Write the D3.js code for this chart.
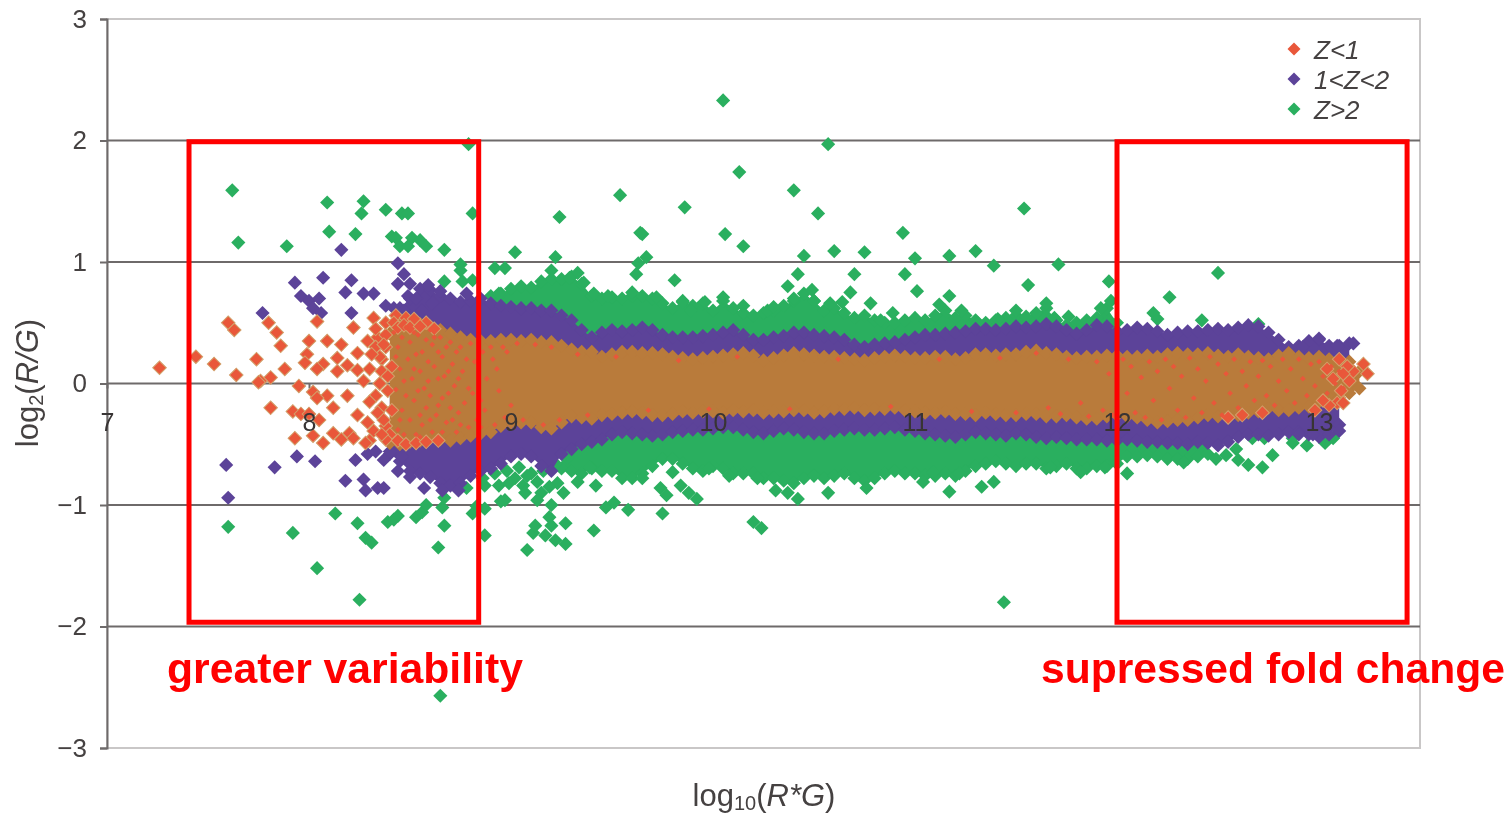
<!DOCTYPE html>
<meta http-equiv="Content-type" content="text/html; charset=UTF-8"/>
<style>
  html, body { margin: 0; background: #fff; overflow: hidden; }
  * { font-family: 'Liberation Sans', Arial, sans-serif; }
</style>
<svg width="1510" height="814"></svg>
<script src="https://d3js.org/d3.v7.min.js"></script>
<script>
var xTicks = [7, 8, 9, 10, 11, 12, 13];
var yTicks = [3, 2, 1, 0, -1, -2, -3];
var gridValues = [2, 1, 0, -1, -2];
var legendLabels = ["Z<1", "1<Z<2", "Z>2"];

// dense part of the cloud, read as an outline of the band at each x
var bandX = [8.40,8.45,8.50,8.55,8.60,8.65,8.70,8.75,8.80,8.85,
  8.90,8.95,9.00,9.05,9.10,9.15,9.20,9.25,9.30,9.35,
  9.40,9.45,9.50,9.55,9.60,9.65,9.70,9.75,9.80,9.85,
  9.90,9.95,10.00,10.05,10.10,10.15,10.20,10.25,10.30,10.35,
  10.40,10.45,10.50,10.55,10.60,10.65,10.70,10.75,10.80,10.85,
  10.90,10.95,11.00,11.05,11.10,11.15,11.20,11.25,11.30,11.35,
  11.40,11.45,11.50,11.55,11.60,11.65,11.70,11.75,11.80,11.85,
  11.90,11.95,12.00,12.05,12.10,12.15,12.20,12.25,12.30,12.35,
  12.40,12.45,12.50,12.55,12.60,12.65,12.70,12.75,12.80,12.85,
  12.90,12.95,13.00,13.05,13.10,13.15,13.20];
var orangeTop = [.41,.52,.51,.49,.47,.44,.41,.38,.36,.35,
  .35,.36,.36,.35,.36,.34,.34,.31,.28,.26,
  .26,.22,.24,.26,.26,.25,.25,.24,.22,.21,
  .20,.21,.22,.23,.24,.25,.23,.19,.21,.23,
  .25,.24,.23,.22,.22,.21,.20,.19,.21,.22,
  .23,.22,.21,.21,.22,.22,.20,.21,.24,.24,
  .23,.24,.24,.26,.27,.25,.24,.22,.21,.22,
  .22,.23,.23,.22,.22,.23,.22,.24,.25,.24,
  .24,.25,.23,.22,.24,.22,.21,.20,.23,.25,
  .22,.21,.22,.20,.17,.18,.10];
var orangeBot = [-.49,-.50,-.48,-.47,-.45,-.46,-.47,-.45,-.43,-.41,
  -.40,-.35,-.32,-.32,-.32,-.36,-.37,-.32,-.27,-.28,
  -.29,-.26,-.25,-.24,-.23,-.24,-.26,-.26,-.25,-.23,
  -.24,-.23,-.23,-.24,-.22,-.23,-.22,-.24,-.23,-.23,
  -.22,-.22,-.24,-.23,-.21,-.21,-.20,-.22,-.21,-.21,
  -.20,-.22,-.23,-.24,-.24,-.23,-.25,-.25,-.26,-.24,
  -.25,-.26,-.26,-.25,-.25,-.27,-.27,-.26,-.28,-.29,
  -.29,-.27,-.26,-.27,-.28,-.30,-.32,-.31,-.30,-.30,
  -.28,-.26,-.27,-.28,-.26,-.24,-.23,-.20,-.22,-.22,
  -.20,-.19,-.15,-.12,-.12,-.08,-.04];
var purpleTop = [null,.62,.70,.78,.77,.72,.70,.67,.68,.70,
  .66,.64,.63,.62,.62,.60,.60,.56,.52,.44,
  .38,.42,.44,.43,.44,.46,.44,.40,.38,.38,
  .38,.39,.40,.42,.44,.40,.36,.36,.38,.39,
  .42,.42,.40,.39,.38,.36,.32,.30,.32,.33,
  .34,.36,.38,.40,.40,.41,.42,.43,.45,.45,
  .44,.45,.47,.46,.47,.49,.47,.44,.41,.44,
  .48,.47,.43,.44,.46,.45,.43,.40,.42,.43,
  .43,.44,.45,.44,.46,.48,.47,.42,.36,.30,
  .31,.35,.36,.31,.31,.33,null];
var purpleBot = [-.58,-.64,-.72,-.74,-.77,-.82,-.84,-.82,-.76,-.72,
  -.70,-.66,-.60,-.58,-.60,-.68,-.72,-.58,-.54,-.50,
  -.48,-.46,-.42,-.40,-.41,-.42,-.43,-.42,-.40,-.39,
  -.38,-.38,-.37,-.36,-.36,-.38,-.40,-.41,-.39,-.37,
  -.38,-.40,-.41,-.41,-.39,-.38,-.37,-.38,-.38,-.37,
  -.36,-.38,-.39,-.41,-.42,-.43,-.44,-.42,-.40,-.41,
  -.42,-.43,-.41,-.42,-.44,-.45,-.44,-.45,-.46,-.46,
  -.46,-.47,-.47,-.46,-.47,-.48,-.48,-.49,-.49,-.50,
  -.48,-.49,-.51,-.48,-.44,-.42,-.42,-.43,-.42,-.40,
  -.40,-.42,-.44,-.42,-.34,null,null];
var greenTop = [null,null,null,null,null,null,null,null,null,null,
  .72,.74,.78,.80,.79,.84,.86,.86,.88,.82,
  .72,.70,.71,.70,.72,.72,.70,.66,.62,.68,
  .64,.66,.60,.68,.62,.58,.56,.58,.60,.64,
  .68,.74,.68,.60,.62,.58,.54,.56,.52,.50,
  .50,.52,.54,.52,.56,.60,.54,.56,.52,.50,
  .52,.54,.56,.55,.58,.62,.52,.48,.50,.52,
  .54,.62,.50,null,null,null,null,null,null,null,
  null,null,null,null,null,null,null,null,null,null,
  null,null,null,null,null,null,null];
var greenBot = [null,null,null,null,null,null,null,null,null,null,
  null,null,null,null,null,null,null,-.70,-.72,-.74,
  -.70,-.72,-.72,-.78,-.78,-.74,-.68,-.62,-.62,-.66,
  -.70,-.72,-.68,-.70,-.74,-.74,-.74,-.78,-.78,-.80,
  -.82,-.78,-.76,-.78,-.76,-.74,-.78,-.80,-.78,-.74,
  -.72,-.74,-.74,-.76,-.76,-.74,-.76,-.72,-.68,-.66,
  -.64,-.66,-.68,-.66,-.66,-.70,-.68,-.66,-.70,-.70,
  -.68,-.68,-.66,-.60,-.60,-.59,-.60,-.62,-.62,-.62,
  -.60,-.58,null,null,null,null,null,null,null,null,
  null,null,null,null,null,null,null];

// points that can be told apart, [x, y]
var orangePoints = [[7.26,.13],[7.44,.22],[7.53,.16],[7.60,.50],[7.63,.44],[7.64,.07],[7.80,.50],[7.84,.42],
  [7.86,.31],[7.74,.20],[7.88,.12],[8.04,.51],[8.00,.35],[8.09,.35],[8.16,.32],[8.22,.46],[7.99,.24],[7.98,.17],
  [8.14,.21],[8.07,.16],[8.04,.12],[8.14,.10],[8.19,.15],[8.24,.11],[7.81,.05],[7.76,.02],[7.75,.01],[7.95,-.02],
  [8.02,-.07],[8.09,-.10],[8.04,-.12],[8.19,-.10],[8.12,-.20],[7.81,-.20],[7.92,-.23],[7.96,-.25],[8.00,-.25],
  [8.05,-.30],[7.93,-.45],[8.02,-.43],[8.07,-.49],[8.12,-.41],[8.16,-.46],[8.20,-.41],[8.22,-.45],[8.24,-.26],
  [8.29,-.32],[8.32,-.39],[8.30,-.47],[8.28,-.49],[8.32,.54],[8.43,.56],[8.29,.35],[8.24,.25],[8.34,.38],[8.48,.54],
  [8.33,.30],[8.36,.20],[8.38,.40],[8.35,.00],[8.33,-.10],[8.36,-.20],[8.38,-.35],[8.40,-.42],[8.36,.10],[8.30,.12],
  [8.30,-.15],[8.33,.45],[8.38,.50],[8.42,.50],[8.38,.30],[8.39,-.06],[8.27,.02],[8.38,-.46],[8.52,.53],[8.58,.50],
  [8.35,.22],[8.37,.32],[8.31,.24],[8.34,-.24],[8.37,-.30],[8.36,-.42],[8.41,.14],[8.41,-.22],[8.39,.06],
  [8.44,.46],[8.47,.48],[8.50,.46],[8.55,.47],[8.62,.45],[8.44,-.47],[8.48,-.50],[8.53,-.49],[8.58,-.48],[8.64,-.47],
  [13.22,.16],[13.24,.08],[13.09,-.16],[13.12,-.16],[13.15,.02],[13.11,-.06],[13.17,.10],[13.14,.14],[13.05,-.18],
  [13.10,.20],[13.02,-.14],[12.98,-.22],[12.72,-.24],[12.55,-.28],[12.62,-.26],[13.12,.08],[13.07,.04],[13.04,.12]];
var orangeFlecks = [[8.42,.42],[8.44,.30],[8.45,.12],[8.43,-.05],[8.46,-.22],[8.44,-.38],[8.48,.46],[8.50,.34],[8.49,.20],
  [8.51,.04],[8.52,-.14],[8.50,-.30],[8.53,-.42],[8.54,.40],[8.56,.26],[8.55,.10],[8.57,-.04],[8.58,-.20],[8.56,-.34],
  [8.60,.44],[8.61,.32],[8.62,.14],[8.60,-.10],[8.63,-.26],[8.61,-.40],[8.65,.38],[8.66,.22],[8.67,.06],[8.66,-.12],
  [8.68,-.32],[8.70,.34],[8.71,.16],[8.72,-.02],[8.70,-.20],[8.73,-.40],[8.75,.30],[8.76,.10],[8.77,-.16],[8.75,-.34],
  [8.80,.33],[8.82,.18],[8.81,-.08],[8.83,-.30],[8.86,.26],[8.88,.04],[8.87,-.22],[8.90,.30],[8.93,.12],[8.92,-.34],
  [8.43,.22],[8.46,.38],[8.47,.02],[8.45,-.30],[8.48,-.10],[8.47,-.42],[8.52,.42],[8.53,.24],[8.52,.12],[8.54,-.06],
  [8.55,-.26],[8.55,-.44],[8.58,.36],[8.59,.18],[8.59,.02],[8.60,-.30],[8.62,.38],[8.64,.26],[8.64,.04],[8.64,-.18],
  [8.66,-.40],[8.68,.30],[8.69,.10],[8.69,-.08],[8.71,-.30],[8.73,.26],[8.74,.04],[8.74,-.24],[8.78,.20],[8.79,-.04],
  [8.79,-.36],[8.84,.10],[8.85,-.14],[8.85,-.36],[8.91,.20],[8.94,-.06],[8.96,.30],[8.97,-.28],
  [8.98,.26],[9.00,-.18],[9.03,.33],[9.06,-.30],[9.12,.32],[9.16,-.34],[9.20,.30],[9.24,-.30],[9.33,.24],[9.38,-.26],
  [9.52,.22],[9.68,-.22],[9.83,.19],[9.98,-.21],[10.12,.22],[10.38,-.21],[10.62,.20],[10.88,-.19],[11.12,.20],
  [11.28,-.23],[11.42,.21],[11.50,-.24],[11.60,.25],[11.66,-.20],[11.72,-.25],[11.76,.20],[11.82,-.16],[11.86,-.27],
  [11.90,.18],[11.93,-.22],[11.96,.08],[11.98,-.26],[12.03,.20],[12.05,-.08],[12.07,.14],[12.09,-.24],[12.12,.05],
  [12.14,-.28],[12.16,.18],[12.18,-.14],[12.20,.10],[12.22,-.30],[12.24,.20],[12.26,-.04],[12.28,.14],[12.30,-.22],
  [12.32,.06],[12.34,-.28],[12.36,.21],[12.38,-.12],[12.40,.12],[12.42,-.24],[12.44,.02],[12.46,.22],[12.48,-.16],
  [12.50,.16],[12.52,-.26],[12.54,.08],[12.56,-.08],[12.58,.20],[12.60,-.20],[12.62,.10],[12.64,-.02],[12.66,.18],
  [12.68,-.14],[12.70,.06],[12.72,.19],[12.74,-.10],[12.76,.14],[12.78,-.18],[12.80,.02],[12.82,.20],[12.84,-.06],
  [12.86,.12],[12.88,-.16],[12.90,.20],[12.92,.04],[12.94,-.10],[12.96,.16],[12.98,-.02],[13.00,.18],[13.02,.06],
  [13.04,-.08],[13.06,.14],[13.08,.00],[13.10,.10],[13.12,-.04]];
var purplePoints = [[7.77,.58],[7.93,.83],[8.07,.87],[8.16,1.10],[7.96,.72],[8.00,.68],[8.05,.70],[8.02,.62],[8.06,.58],
  [8.21,.58],[8.18,.75],[8.21,.85],[8.27,.74],[8.32,.74],[8.38,.64],[8.44,.99],[8.47,.90],[8.44,.82],[8.50,.82],[8.49,.72],
  [8.59,.81],[8.65,.76],[8.56,.60],[8.61,.66],[8.78,.74],[8.42,.62],[8.47,.60],[8.53,.70],
  [7.59,-.67],[7.60,-.94],[7.83,-.69],[7.94,-.60],[8.03,-.64],[8.23,-.63],[8.18,-.80],[8.27,-.79],[8.28,-.88],[8.34,-.86],
  [8.37,-.86],[8.29,-.58],[8.37,-.63],[8.44,-.72],[8.50,-.77],[8.57,-.86],[8.66,-.88],[8.74,-.88],[8.33,-.56],[8.40,-.56],[8.46,-.60],
  [13.10,-.39],[12.97,-.42],[12.90,-.42],[13.17,.33],[13.09,.31],[13.00,.37],[12.92,.30]];
var greenPoints = [[7.62,1.59],[7.65,1.16],[7.89,1.13],[8.09,1.49],[8.27,1.50],[8.26,1.40],[8.38,1.43],[8.46,1.40],[8.49,1.40],
  [8.10,1.25],[8.23,1.23],[8.41,1.21],[8.45,1.13],[8.43,1.20],[8.51,1.20],[8.49,1.13],[8.55,1.18],[8.58,1.13],[8.67,1.10],
  [8.75,.98],[8.75,.93],[8.67,.84],[8.76,.84],[8.81,1.40],[8.79,1.97],[8.81,.85],[8.92,.95],[8.94,.74],
  [7.60,-1.18],[7.92,-1.23],[8.13,-1.07],[8.24,-1.15],[8.28,-1.27],[8.31,-1.31],[8.04,-1.52],[8.25,-1.78],[8.39,-1.14],
  [8.44,-1.09],[8.42,-1.12],[8.53,-1.10],[8.56,-1.06],[8.58,-1.00],[8.66,-1.02],[8.67,-.94],[8.67,-1.17],[8.64,-1.35],
  [8.78,-.86],[8.81,-1.07],[8.83,-1.01],[8.87,-1.03],[8.87,-1.25],[8.87,-.84],[8.94,-.84],[8.95,-.97],
  [8.86,-.78],[8.92,-.74],[8.98,-.72],[9.02,-.78],[9.06,-.84],[9.10,-.74],[9.15,-.90],[9.23,-.82],
  [9.04,-.69],[8.99,-.82],[8.97,-.96],[9.07,-.90],[9.13,-.96],[9.13,-.81],[9.19,-.85],[9.26,-.90],[9.20,-1.00],[9.19,-1.10],
  [9.20,-1.17],[9.27,-1.15],[9.11,-1.23],[9.28,-.61],[9.33,-.81],[9.39,-.69],[9.42,-.84],[9.47,-1.02],[9.51,-.98],[9.58,-1.04],
  [9.75,-1.07],[9.74,-.86],[9.77,-.92],[9.84,-.84],[9.88,-.90],[9.92,-.95],[9.80,-.73],[9.65,-.78],[9.98,-.70],[10.08,-.76],
  [10.22,-.78],[10.31,-.88],[10.37,-.90],[10.42,-.95],[10.57,-.90],[10.76,-.86],[10.20,-1.14],[10.24,-1.19],[9.41,-1.21],
  [9.08,-1.37],[9.12,-1.17],[9.17,-1.25],[9.27,-1.32],[9.22,-1.29],[9.08,-.76],[9.16,-.72],[9.22,-.66],
  [9.02,1.08],[8.97,.95],[9.22,1.04],[9.20,.93],[9.65,1.23],[9.67,1.04],[9.63,.99],[9.62,.90],[9.81,.85],[10.06,1.23],[10.15,1.13],
  [10.45,1.05],[10.60,1.09],[10.75,1.08],[10.42,.90],[10.70,.90],[10.37,.80],[10.49,.77],[10.50,.68],[10.68,.75],[10.78,.66],
  [10.05,.71],[9.96,.67],[9.85,.67],[9.33,.91],[9.36,.83],[9.29,.87],[10.58,.66],[10.64,.67],[10.40,.70],[10.89,.58],
  [9.41,.74],[9.48,.72],[9.60,.75],[9.72,.71],[9.89,.60],[10.15,.64],[10.27,.60],[10.30,.63],[10.83,.52],
  [10.05,2.33],[10.13,1.74],[10.57,1.97],[10.40,1.59],[10.52,1.40],[9.54,1.55],[9.86,1.45],[9.24,1.37],[9.64,1.24],[11.54,1.44],
  [10.94,1.24],[12.50,.91],[11.71,.98],[11.39,.97],[11.30,1.09],[11.17,1.05],[11.00,1.03],[10.95,.90],[11.01,.76],[11.56,.81],
  [11.44,-1.80],[8.65,-2.57],[11.96,.84],[11.17,.72],[11.12,.65],[11.97,.68],[11.92,.62],[11.76,.55],[11.65,.66],[11.69,.54],
  [11.50,.60],[11.41,.53],[11.23,.60],[11.31,.50],[12.26,.71],[12.18,.58],[12.20,.53],[12.42,.52],[12.70,.49],
  [11.17,-.89],[11.04,-.81],[11.09,-.73],[11.33,-.85],[11.39,-.81],[11.22,-.74],[11.67,-.69],[11.82,-.73],[11.94,-.69],[12.05,-.74],
  [12.33,-.65],[12.59,-.54],[12.60,-.63],[12.65,-.67],[12.72,-.69],[12.77,-.59],[12.67,-.45],[12.73,-.45],[12.87,-.45],[12.87,-.49],
  [12.94,-.51],[13.03,-.49],[13.07,-.45],[12.49,-.62],[12.54,-.59]];

var boxXs = [[7.406, 8.84], [12.0, 13.436]];
var boxYs = [1.99, -1.965];

var colors = {red: "#e9573a", redEdge: "#d2a06a", brown: "#b97b3b", purple: "#5c4399", green: "#2aaf5f", text: "#454141", grid: "#6e6a6a", frame: "#c9c7c7"};

var svg = d3.select("svg");
// the source is a soft scan, everything but the red call-outs gets a slight blur
var chart = svg.append("g").style("filter", "blur(0.5px)");
var x = d3.scaleLinear().domain([7, 13.5]).range([107, 1420]);
var y = d3.scaleLinear().domain([-3, 3]).range([748, 19]);

// frame
chart.append("rect").attr("x", x(7)).attr("y", y(3))
    .attr("width", x(13.5) - x(7)).attr("height", y(-3) - y(3))
    .attr("fill", "none").attr("stroke", colors.frame).attr("stroke-width", 2);

// gridlines
chart.append("g").selectAll("line").data(gridValues).join("line")
    .attr("x1", x(7)).attr("x2", x(13.5))
    .attr("y1", function(d) { return y(d); }).attr("y2", function(d) { return y(d); })
    .attr("stroke", colors.grid).attr("stroke-width", 2);

// y axis
var yAxis = chart.append("g").attr("transform", "translate(" + x(7) + ",0)")
    .call(d3.axisLeft(y).tickValues(yTicks).tickSize(7).tickPadding(13)
      .tickFormat(function(d) { return d < 0 ? "\u2212" + (-d) : d; }));
yAxis.select(".domain").attr("stroke", colors.grid).attr("stroke-width", 2);
yAxis.selectAll("line").attr("stroke", colors.grid).attr("stroke-width", 2);
yAxis.selectAll("text").attr("fill", colors.text).style("font-size", "26px");

// x tick marks go under the points, their labels over them
var xTickMarks = chart.append("g").attr("transform", "translate(0," + y(0) + ")")
    .call(d3.axisBottom(x).tickValues(xTicks).tickSize(5).tickFormat(""));
xTickMarks.select(".domain").remove();
xTickMarks.selectAll("line").attr("stroke", colors.grid).attr("stroke-width", 2);

function diamonds(pts, size, fill, stroke) {
  chart.append("g").selectAll("path").data(pts).join("path")
      .attr("d", d3.symbol().type(d3.symbolSquare).size(size))
      .attr("transform", function(d) { return "translate(" + x(d[0]) + "," + y(d[1]) + ") rotate(45)"; })
      .attr("fill", fill)
      .attr("stroke", stroke || "none")
      .attr("stroke-width", stroke ? 1 : 0);
}

function bandPoints(values) {
  return bandX.map(function(v, i) { return [v, values[i]]; }).filter(function(d) { return d[1] !== null; });
}

function bandArea(values, color, inner) {
  var area = d3.area()
      .defined(function(d) { return d[1] !== null; })
      .x(function(d) { return x(d[0]); })
      .y0(function(d) { return y(d[2]); })
      .y1(function(d) { return y(d[1]); });
  chart.append("path")
      .datum(bandX.map(function(v, i) { return [v, values[i], inner ? inner[i] : 0]; }))
      .attr("fill", color)
      .attr("d", area);
  diamonds(bandPoints(values), 100, color);
}

// outer layer first
bandArea(greenTop, colors.green);
bandArea(greenBot, colors.green);
diamonds(greenPoints, 100, colors.green);
bandArea(purpleTop, colors.purple);
bandArea(purpleBot, colors.purple);
diamonds(purplePoints, 100, colors.purple);
bandArea(orangeTop, colors.brown, orangeBot);
diamonds(bandPoints(orangeBot), 100, colors.brown);
diamonds(orangePoints, 92, colors.red, colors.redEdge);
diamonds(orangeFlecks, 16, colors.red);

// x tick labels sit over the points at the zero line
var xAxis = chart.append("g").attr("transform", "translate(0," + y(0) + ")")
    .call(d3.axisBottom(x).tickValues(xTicks).tickSize(0).tickPadding(30).tickFormat(d3.format("d")));
xAxis.select(".domain").remove();
xAxis.selectAll("text").attr("fill", "#383434").style("font-size", "25px");

// axis titles
var xTitle = chart.append("text").attr("x", 764).attr("y", 806).attr("text-anchor", "middle")
    .attr("fill", colors.text).style("font-size", "31px");
xTitle.append("tspan").text("log");
xTitle.append("tspan").attr("dy", 4).style("font-size", "20px").text("10");
xTitle.append("tspan").attr("dy", -4).text("(");
xTitle.append("tspan").style("font-style", "italic").text("R*G");
xTitle.append("tspan").text(")");

var yTitle = chart.append("text").attr("transform", "translate(38,383) rotate(-90)").attr("text-anchor", "middle")
    .attr("fill", colors.text).style("font-size", "31px");
yTitle.append("tspan").text("log");
yTitle.append("tspan").attr("dy", 5).style("font-size", "20px").text("2");
yTitle.append("tspan").attr("dy", -5).text("(");
yTitle.append("tspan").style("font-style", "italic").text("R/G");
yTitle.append("tspan").text(")");

// legend
var legendColors = [colors.red, colors.purple, colors.green];
var legend = chart.append("g").selectAll("g").data(legendLabels).join("g")
    .attr("transform", function(d, i) { return "translate(1294," + (49 + i * 30) + ")"; });
legend.append("path")
    .attr("d", d3.symbol().type(d3.symbolSquare).size(85))
    .attr("transform", "rotate(45)")
    .attr("fill", function(d, i) { return legendColors[i]; });
legend.append("text").attr("x", 20).attr("y", 10)
    .attr("fill", colors.text).style("font-size", "26px").style("font-style", "italic")
    .text(function(d) { return d; });

// red call-outs
svg.append("g").selectAll("rect").data(boxXs).join("rect")
    .attr("x", function(d) { return x(d[0]); })
    .attr("y", y(boxYs[0]))
    .attr("width", function(d) { return x(d[1]) - x(d[0]); })
    .attr("height", y(boxYs[1]) - y(boxYs[0]))
    .attr("fill", "none").attr("stroke", "#f00").attr("stroke-width", 5);

svg.append("text").attr("x", 167).attr("y", 683).attr("fill", "#f00")
    .style("font-size", "42.7px").style("font-weight", "bold").text("greater variability");
svg.append("text").attr("x", 1041).attr("y", 683).attr("fill", "#f00")
    .style("font-size", "42.6px").style("font-weight", "bold").text("supressed fold change");
</script>
